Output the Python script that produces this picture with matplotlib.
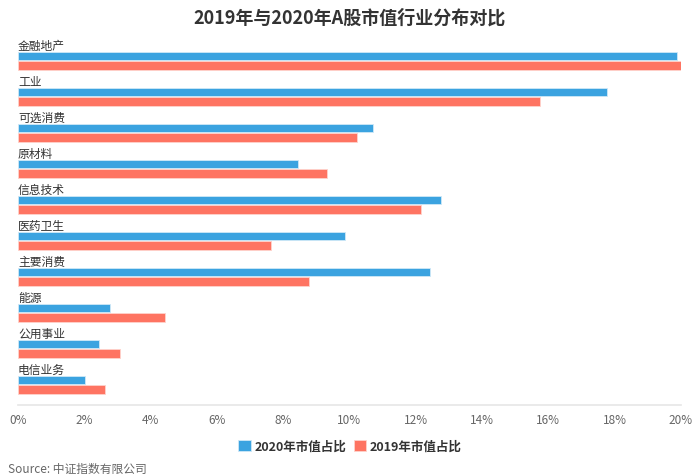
import numpy as np
import matplotlib.pyplot as plt

plt.rcParams['font.family'] = ['Noto Sans CJK SC', 'DejaVu Sans']

categories = ['金融地产', '工业', '可选消费', '原材料', '信息技术',
              '医药卫生', '主要消费', '能源', '公用事业', '电信业务']
share_2020 = [19.87, 17.78, 10.71, 8.46, 12.77, 9.86, 12.44, 2.77, 2.44, 2.02]
share_2019 = [20.0, 15.76, 10.24, 9.32, 12.15, 7.64, 8.79, 4.42, 3.07, 2.63]
xticks = np.arange(0, 21, 2)

blue = '#3ba3e0'
red = '#fe7462'

fig = plt.figure(figsize=(7, 4.77), dpi=100)
ax = fig.add_axes([18/700, 1 - 406/477, 663/700, 368/477])

y = np.arange(len(categories))
off = 0.265
h = 0.24
ax.barh(y, share_2020, height=h, color=blue, edgecolor='#cfe8f7', linewidth=0.6, label='2020年市值占比')
ax.barh(y + off, share_2019, height=h, color=red, edgecolor='#ffd3cc', linewidth=0.6, label='2019年市值占比')

for i, c in enumerate(categories):
    ax.text(0, i - 0.3, c, fontsize=8.5, color='#333333', va='center', ha='left')

ax.set_xlim(0, 20)
ax.set_ylim(9.69, -0.53)
ax.set_xticks(xticks)
ax.set_xticklabels([f'{v}%' for v in xticks], color='#666666', fontsize=8.5)
ax.set_yticks([])
for s in ['top', 'right', 'left']:
    ax.spines[s].set_visible(False)
ax.spines['bottom'].set_color('#e6e6e6')
ax.spines['bottom'].set_linewidth(1.2)
ax.tick_params(axis='x', length=0, pad=6)

fig.text(0.5, 1 - 18/477, '2019年与2020年A股市值行业分布对比', ha='center', va='center',
         fontsize=13, fontweight='bold', color='#333333')

leg = fig.legend(loc='center', bbox_to_anchor=(0.5, 1 - 447/477), ncol=2, frameon=False,
                 handlelength=1.0, handleheight=1.0, handletextpad=0.3, columnspacing=0.6,
                 prop={'size': 9, 'weight': 'bold'})
for t in leg.get_texts():
    t.set_color('#333333')

fig.text(8/700, 1 - 469/477, 'Source: 中证指数有限公司', ha='left', va='center',
         fontsize=8.5, color='#666666')

fig.savefig('out.png', dpi=100)
